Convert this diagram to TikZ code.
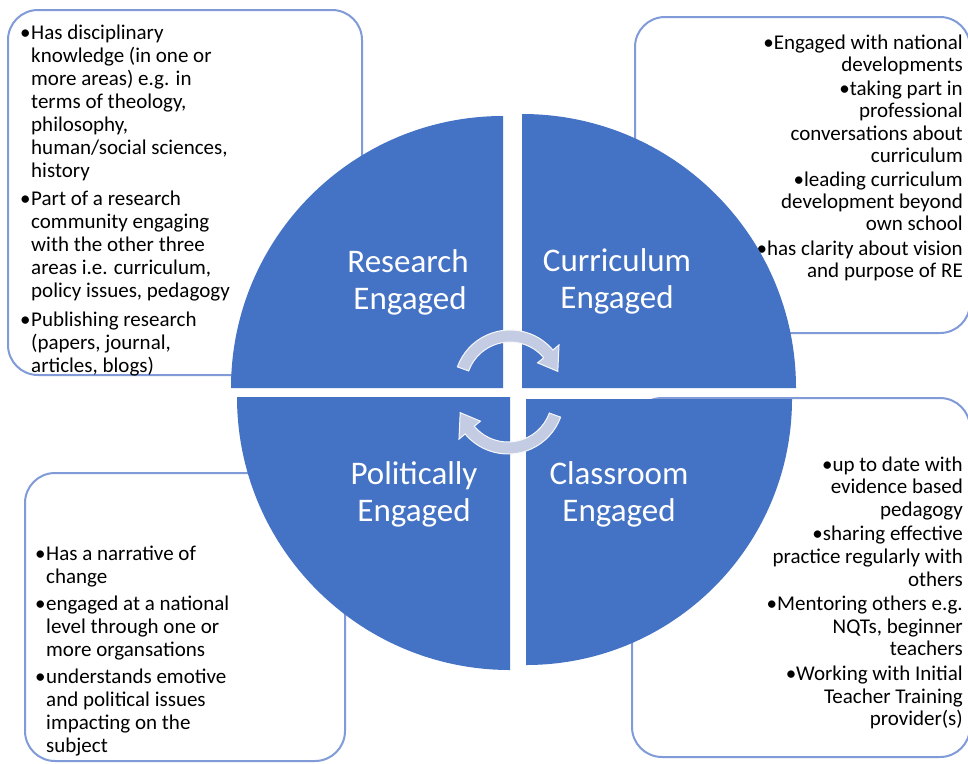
\documentclass[tikz,border=0pt]{standalone}
\usepackage{fontspec}
\setmainfont{Carlito}
\definecolor{quadblue}{RGB}{68,114,196}
\definecolor{boxline}{RGB}{128,155,216}
\definecolor{arrowfill}{RGB}{196,204,228}
\newcommand{\bul}{\makebox[11pt][l]{•}}
\newcommand{\ind}{\hspace*{11pt}}
\tikzset{
  cbox/.style={draw=boxline, line width=2pt, rounded corners=30pt, fill=white},
  body/.style={inner sep=0pt, font=\fontsize{21}{22.7}\selectfont, text=black},
  quadlabel/.style={text=white, font=\fontsize{33}{37}\selectfont, inner sep=0pt, anchor=base},
  quad/.style={fill=quadblue},
  cyc/.style={fill=arrowfill, draw=white!85!arrowfill, line width=1pt}
}
\begin{document}
\begin{tikzpicture}[x=1pt,y=-1pt]
\useasboundingbox (0,0) rectangle (968,763);
\fill[white] (0,0) rectangle (968,763);
% corner boxes
\begin{scope}
\clip (0,0) rectangle (968,763);
\draw[cbox] (8,10) rectangle (362,375);
\draw[cbox] (635,17) rectangle (970,333);
\draw[cbox] (25,473) rectangle (345,761);
\draw[cbox] (632,398) rectangle (970,757);
\end{scope}
% box texts
\node[body, anchor=north west, align=left, font=\fontsize{21}{23}\selectfont] (tltext) at (20,24.5) {%
\bul Has disciplinary\\
\ind knowledge (in one or\\
\ind more areas) e.g. in\\
\ind terms of theology,\\
\ind philosophy,\\
\ind human/social sciences,\\
\ind history\\[5.5pt]
\bul Part of a research\\
\ind community engaging\\
\ind with the other three\\
\ind areas i.e. curriculum,\\
\ind policy issues, pedagogy\\[5.5pt]
\bul Publishing research\\
\ind (papers, journal,\\
\ind articles, blogs)};
\node[body, anchor=north east, align=right, font=\fontsize{21}{22.2}\selectfont] (trtext) at (963,34.5) {%
•Engaged with national\\
developments\\[2pt]
•taking part in\\
professional\\
conversations about\\
curriculum\\[2pt]
•leading curriculum\\
development beyond\\
own school\\[2pt]
•has clarity about vision\\
and purpose of RE};
\node[body, anchor=north west, align=left, font=\fontsize{21}{23}\selectfont] (bltext) at (35,545.5) {%
\bul Has a narrative of\\
\ind change\\[4pt]
\bul engaged at a national\\
\ind level through one or\\
\ind more organsations\\[4pt]
\bul understands emotive\\
\ind and political issues\\
\ind impacting on the\\
\ind subject};
\node[body, anchor=north east, align=right, font=\fontsize{21}{22.6}\selectfont] (brtext) at (963,456.4) {%
•up to date with\\
evidence based\\
pedagogy\\[2pt]
•sharing effective\\
practice regularly with\\
others\\[2pt]
•Mentoring others e.g.\\
NQTs, beginner\\
teachers\\[2pt]
•Working with Initial\\
Teacher Training\\
provider(s)};
% quadrants
\fill[quad] (503,388) -- +(-272,0) arc[start angle=180, end angle=270, radius=272] -- cycle;
\fill[quad] (522,388) -- +(0,-274) arc[start angle=270, end angle=360, radius=274] -- cycle;
\fill[quad] (510,397) -- +(0,273) arc[start angle=90, end angle=180, radius=273] -- cycle;
\fill[quad] (526,399) -- +(266,0) arc[start angle=0, end angle=90, radius=266] -- cycle;
% quadrant labels
\node[quadlabel] (rl1) at (408,272) {Research};
\node[quadlabel] (rl2) at (410,309) {Engaged};
\node[quadlabel] (cl1) at (617,271) {Curriculum};
\node[quadlabel] (cl2) at (617,308) {Engaged};
\node[quadlabel] (pl1) at (414,484) {Politically};
\node[quadlabel] (pl2) at (414,521) {Engaged};
\node[quadlabel] (kl1) at (619,484) {Classroom};
\node[quadlabel] (kl2) at (619,521) {Engaged};
% cycle arrows
\begin{scope}[shift={(510,386)}]
\draw[cyc] (-160:56) arc[start angle=-160, end angle=-40, radius=56] -- (-40:64) -- (-17:50) -- (-40:36) -- (-40:44) arc[start angle=-40, end angle=-160, radius=44] -- cycle;
\end{scope}
\begin{scope}[shift={(508,398)}]
\draw[cyc] (20:56) arc[start angle=20, end angle=140, radius=56] -- (140:64) -- (163:50) -- (140:36) -- (140:44) arc[start angle=140, end angle=20, radius=44] -- cycle;
\end{scope}
\end{tikzpicture}
\end{document}
